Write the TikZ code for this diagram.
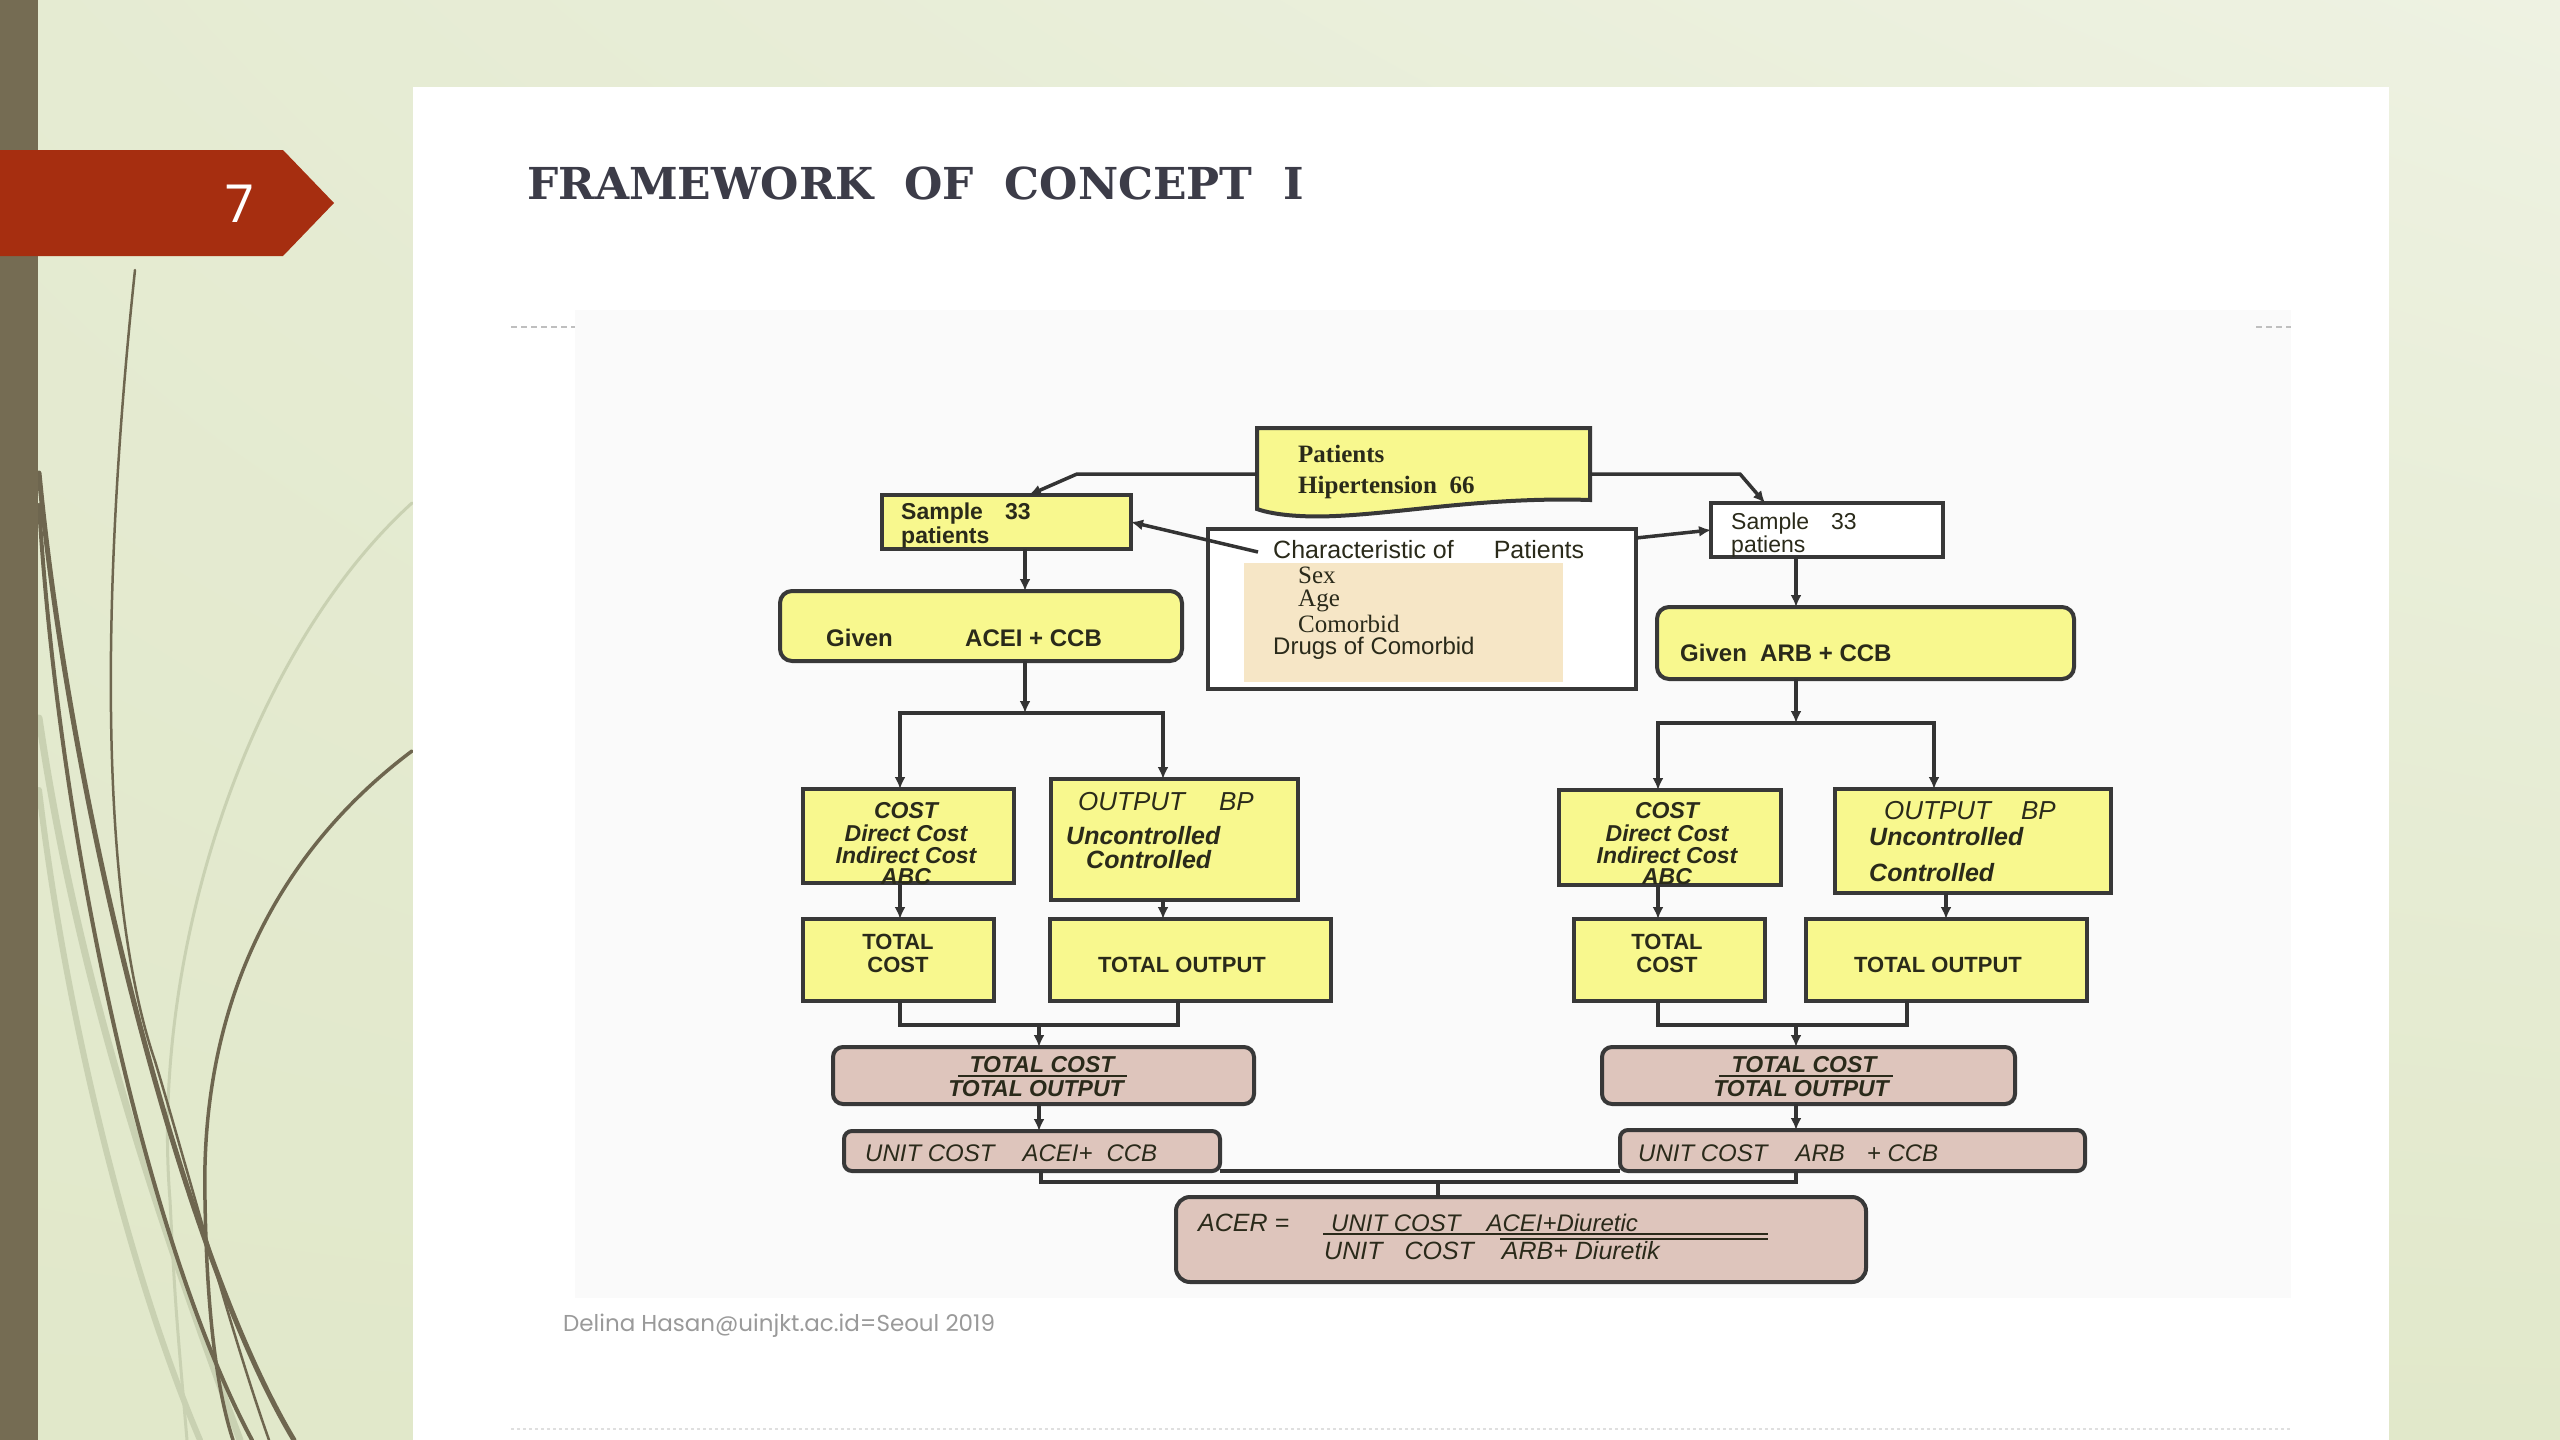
\documentclass[tikz,border=0pt]{standalone}
\usepackage{fontspec}
\usetikzlibrary{arrows.meta,calc,shadings}
\setmainfont{Liberation Sans}
\newfontfamily\titlefont{DejaVu Serif}
\newfontfamily\serfont{Liberation Serif}
\newfontfamily\footfont{Poppins}
\newcommand\setfs[1]{\fontsize{#1}{#1}\selectfont}
\definecolor{bgA}{HTML}{E1E8CA}
\definecolor{bgB}{HTML}{E5EBD2}
\definecolor{bgC}{HTML}{EEF2E2}
\definecolor{barc}{HTML}{756C53}
\definecolor{bannerc}{HTML}{A62E10}
\definecolor{curvd}{HTML}{6E664F}
\definecolor{curvf}{HTML}{C9D1B2}
\definecolor{imgbg}{HTML}{FAFAFA}
\definecolor{titlec}{HTML}{3C3C48}
\definecolor{yel}{HTML}{F8F88E}
\definecolor{pnk}{HTML}{DEC5BC}
\definecolor{beige}{HTML}{F6E6C6}
\definecolor{bord}{HTML}{383838}
\definecolor{lnc}{HTML}{333333}
\definecolor{txc}{HTML}{2A2A1A}
\definecolor{footc}{HTML}{9A9A9A}
\begin{document}
\begin{tikzpicture}[x=1pt,y=-1pt,
  yb/.style={draw=bord,line width=4,fill=yel,inner sep=0,outer sep=0},
  wb/.style={draw=bord,line width=4,fill=white,inner sep=0,outer sep=0},
  pb/.style={draw=bord,line width=4,fill=pnk,rounded corners=10,inner sep=0,outer sep=0},
  bx/.style 2 args={minimum width=#1,minimum height=#2},
  conn/.style={draw=lnc,line width=3.5},
  arr/.style={conn,-{Latex[length=12pt,width=11pt]}},
  tl/.style={anchor=west,inner sep=0,text=txc},
  tc/.style={anchor=center,inner sep=0,text=txc,align=center},
  dcurve/.style={draw=curvd,line cap=round},
  fcurve/.style={draw=curvf,line cap=round}]
\useasboundingbox (0,0) rectangle (2560,1440);
% background
\shade[upper left=bgB,upper right=bgC,lower left=bgA,lower right=bgA] (0,0) rectangle (2560,1440);
% decorative curves
\draw[fcurve,line width=7] (39,718) .. controls (80,1000) and (170,1250) .. (240,1440);
\draw[fcurve,line width=6] (39,790) .. controls (70,1050) and (140,1300) .. (200,1440);
\draw[fcurve,line width=3] (412,503) .. controls (250,650) and (150,950) .. (170,1200) .. controls (175,1300) .. (187,1440);
\draw[dcurve,line width=2.5] (135,270) .. controls (100,600) and (100,900) .. (155,1061) .. controls (185,1160) and (230,1330) .. (269,1440);
\draw[dcurve,line width=5] (39,473) .. controls (70,800) and (180,1250) .. (294,1440);
\draw[dcurve,line width=4] (39,505) .. controls (60,850) and (150,1250) .. (252,1440);
\draw[dcurve,line width=3.5] (412,751) .. controls (280,850) and (200,1000) .. (205,1200) .. controls (207,1330) and (220,1400) .. (233,1440);
\fill[barc] (0,0) rectangle (38,1440);
% banner
\fill[bannerc] (0,150) -- (283,150) -- (334,203) -- (283,256) -- (0,256) -- cycle;
\node[inner sep=0,text=white,font=\footfont\setfs{52}] (num) at (240,204) {7};
% slide panel
\fill[white] (413,87) rectangle (2389,1440);
\fill[imgbg] (575,310) rectangle (2291,1298);
\node[anchor=west,inner sep=0,text=titlec,font={\titlefont\bfseries\setfs{44}}] (title) at (527,183) {FRAMEWORK\ \ OF\ \ CONCEPT\ \ I};
\draw[gray!50,line width=2,dash pattern=on 6 off 4] (511,327) -- (575,327);
\draw[gray!50,line width=2,dash pattern=on 6 off 4] (2256,327) -- (2291,327);
\draw[gray!25,line width=2,dash pattern=on 3 off 3] (511,1429) -- (2291,1429);
\node[anchor=west,inner sep=0,text=footc,font=\footfont\setfs{23}] (foot) at (563,1326) {Delina Hasan@uinjkt.ac.id=Seoul 2019};
% ---------- diagram boxes ----------
\node[inner sep=0,bx={333}{92}] (pat) at (1423.5,474) {};
\draw[yb] (1257,428) -- (1590,428) -- (1590,500) .. controls (1470,496) and (1370,520) .. (1300,516) .. controls (1280,515) and (1265,512) .. (1257,509) -- cycle;
\node[tl,font={\serfont\bfseries\setfs{25}}] (patA) at (1298,454) {Patients};
\node[tl,font={\serfont\bfseries\setfs{25}}] (patB) at (1298,487) {Hipertension\ \ 66};

\node[yb,bx={249}{54}] (sL) at (1006.5,522) {};
\node[tl,font={\bfseries\setfs{23}}] (sLa) at (901,514) {Sample\hspace{22pt}33};
\node[tl,font={\bfseries\setfs{23}}] (sLb) at (901,538) {patients};

\node[wb,bx={232}{54}] (sR) at (1827,530) {};
\node[tl,font={\setfs{23}}] (sRa) at (1731,524) {Sample\hspace{22pt}33};
\node[tl,font={\setfs{23}}] (sRb) at (1731,547) {patiens};

\node[wb,bx={428}{160}] (ch) at (1422,609) {};
\fill[beige] (1244,563) rectangle (1563,682);
\node[tl,font={\setfs{25}}] (chA1) at (1273,550) {Characteristic of\hspace{40pt}Patients};
\node[tl,font={\serfont\setfs{25}}] (chS) at (1298,575) {Sex};
\node[tl,font={\serfont\setfs{25}}] (chG) at (1298,601) {Age};
\node[tl,font={\serfont\setfs{25}}] (chC) at (1298,624) {Comorbid};
\node[tl,font={\setfs{24}}] (chD) at (1273,648) {Drugs of Comorbid};

\node[yb,rounded corners=12,bx={402}{70}] (gL) at (981,626) {};
\node[tl,font={\bfseries\setfs{24}}] (gLa) at (826,638) {Given};
\node[tl,font={\bfseries\setfs{24}}] (gLb) at (965,638) {ACEI + CCB};

\node[yb,rounded corners=12,bx={417}{72}] (gR) at (1865.5,643) {};
\node[tl,font={\bfseries\setfs{24}}] (gRa) at (1680,653) {Given\ \ ARB + CCB};

% left branch
\node[yb,bx={211}{94}] (cL) at (908.5,836) {};
\node[tc,font={\bfseries\itshape\setfs{23}}] (cL1) at (906,811) {COST};
\node[tc,font={\bfseries\itshape\setfs{23}}] (cL2) at (906,833) {Direct Cost};
\node[tc,font={\bfseries\itshape\setfs{23}}] (cL3) at (906,855) {Indirect Cost};
\node[tc,font={\bfseries\itshape\setfs{23}}] (cL4) at (906,877) {ABC};

\node[yb,bx={247}{121}] (oL) at (1174.5,839.5) {};
\node[tl,font={\itshape\setfs{26}}] (oL1) at (1078,802) {OUTPUT\hspace{34pt}BP};
\node[tl,font={\bfseries\itshape\setfs{25}}] (oL2) at (1066,836) {Uncontrolled};
\node[tl,font={\bfseries\itshape\setfs{25}}] (oL3) at (1086,860) {Controlled};

\node[yb,bx={191}{82}] (tcL) at (898.5,960) {};
\node[tc,font={\bfseries\setfs{22}}] (tcL1) at (898,942) {TOTAL};
\node[tc,font={\bfseries\setfs{22}}] (tcL2) at (898,965) {COST};
\node[yb,bx={281}{82}] (toL) at (1190.5,960) {};
\node[tc,font={\bfseries\setfs{22}}] (toL1) at (1182,965) {TOTAL OUTPUT};

\node[pb,bx={421}{57}] (rL) at (1043.5,1075.5) {};
\node[tc,font={\bfseries\itshape\setfs{23}}] (rL1) at (1042,1065) {TOTAL\ COST};
\node[tc,font={\bfseries\itshape\setfs{23}}] (rL2) at (1036,1089) {TOTAL OUTPUT};
\draw[draw=txc,line width=1.8] (958,1076) -- (1127,1076);

\node[pb,rounded corners=8,bx={376}{40}] (uL) at (1032,1151) {};
\node[tl,font={\itshape\setfs{24}}] (uL1) at (865,1153) {UNIT COST\hspace{28pt}ACEI+\hspace{14pt}CCB};

% right branch
\node[yb,bx={222}{95}] (cR) at (1670,837.5) {};
\node[tc,font={\bfseries\itshape\setfs{23}}] (cR1) at (1667,811) {COST};
\node[tc,font={\bfseries\itshape\setfs{23}}] (cR2) at (1667,833) {Direct Cost};
\node[tc,font={\bfseries\itshape\setfs{23}}] (cR3) at (1667,855) {Indirect Cost};
\node[tc,font={\bfseries\itshape\setfs{23}}] (cR4) at (1667,877) {ABC};

\node[yb,bx={276}{104}] (oR) at (1973,841) {};
\node[tl,font={\itshape\setfs{26}}] (oR1) at (1884,811) {OUTPUT\hspace{30pt}BP};
\node[tl,font={\bfseries\itshape\setfs{25}}] (oR2) at (1869,837) {Uncontrolled};
\node[tl,font={\bfseries\itshape\setfs{25}}] (oR3) at (1869,873) {Controlled};

\node[yb,bx={191}{82}] (tcR) at (1669.5,960) {};
\node[tc,font={\bfseries\setfs{22}}] (tcR1) at (1667,942) {TOTAL};
\node[tc,font={\bfseries\setfs{22}}] (tcR2) at (1667,965) {COST};
\node[yb,bx={281}{82}] (toR) at (1946.5,960) {};
\node[tc,font={\bfseries\setfs{22}}] (toR1) at (1938,965) {TOTAL OUTPUT};

\node[pb,bx={413}{57}] (rR) at (1808.5,1075.5) {};
\node[tc,font={\bfseries\itshape\setfs{23}}] (rR1) at (1804,1065) {TOTAL\ COST};
\node[tc,font={\bfseries\itshape\setfs{23}}] (rR2) at (1801,1089) {TOTAL OUTPUT};
\draw[draw=txc,line width=1.8] (1719,1076) -- (1893,1076);

\node[pb,rounded corners=8,bx={465}{41}] (uR) at (1852.5,1150.5) {};
\node[tl,font={\itshape\setfs{24}}] (uR1) at (1638,1153) {UNIT COST\hspace{28pt}ARB\hspace{22pt}+ CCB};

% ACER
\node[pb,rounded corners=14,bx={690}{85}] (acer) at (1521,1239.5) {};
\node[tl,font={\itshape\setfs{25}}] (acA) at (1198,1223) {ACER =};
\node[tl,font={\itshape\setfs{24}}] (acN) at (1331,1223) {UNIT COST\hspace{26pt}ACEI+Diuretic};
\node[tl,font={\itshape\setfs{25}}] (acD) at (1324,1251) {UNIT\hspace{22pt}COST\hspace{28pt}ARB+ Diuretik};
\draw[draw=txc,line width=2] (1323,1234) -- (1768,1234);
\draw[draw=txc,line width=2] (1500,1239) -- (1768,1239);

% ---------- connector coordinates ----------
\coordinate (bL) at (1077,474);
\coordinate (tL) at (1029,0);
\coordinate (bR) at (1740,474);
\coordinate (tR) at (1765,0);
\coordinate (chA) at (1258,552);
\coordinate (chB) at (1636,538);
\coordinate (xL1) at (1025,0);
\coordinate (jL) at (1025,713);
\coordinate (xL2) at (900,0);
\coordinate (xL3) at (1163,0);
\coordinate (xL4) at (1178,0);
\coordinate (kL) at (1039,1025);
\coordinate (xR1) at (1796,0);
\coordinate (jR) at (1796,723);
\coordinate (xR2) at (1658,0);
\coordinate (xR3) at (1934,0);
\coordinate (xR3b) at (1946,0);
\coordinate (xR4) at (1907,0);
\coordinate (kR) at (1796,1025);
\coordinate (xU) at (1041,0);
\coordinate (kA) at (1438,1182);

% ---------- connectors ----------
\draw[arr] (pat.west) -- (bL) -- (sL.north -| tL);
\draw[arr] (pat.east) -- (bR) -- (sR.north -| tR);
\draw[arr] (chA) -- (sL.east);
\draw[arr] (chB) -- (sR.west);
\draw[arr] (sL.south -| xL1) -- (gL.north -| xL1);
\draw[arr] (gL.south -| xL1) -- (jL);
\draw[arr] (jL) -| (cL.north -| xL2);
\draw[arr] (jL) -| (oL.north -| xL3);
\draw[arr] (cL.south -| xL2) -- (tcL.north -| xL2);
\draw[arr] (oL.south -| xL3) -- (toL.north -| xL3);
\draw[conn] (tcL.south -| xL2) |- (kL) -| (toL.south -| xL4);
\draw[arr] (kL) -- (rL.north -| kL);
\draw[arr] (rL.south -| kL) -- (uL.north -| kL);

\draw[arr] (sR.south -| xR1) -- (gR.north -| xR1);
\draw[arr] (gR.south -| xR1) -- (jR);
\draw[arr] (jR) -| (cR.north -| xR2);
\draw[arr] (jR) -| (oR.north -| xR3);
\draw[arr] (cR.south -| xR2) -- (tcR.north -| xR2);
\draw[arr] (oR.south -| xR3b) -- (toR.north -| xR3b);
\draw[conn] (tcR.south -| xR2) |- (kR) -| (toR.south -| xR4);
\draw[arr] (kR) -- (rR.north -| kR);
\draw[arr] (rR.south -| kR) -- (uR.north -| kR);

\draw[conn] (uL.south -| xU) |- (kA) -| (uR.south -| kR);
\draw[conn] (uL.south east) -- (uR.south west);
\draw[conn] (kA) -- (acer.north -| kA);
\end{tikzpicture}
\end{document}
